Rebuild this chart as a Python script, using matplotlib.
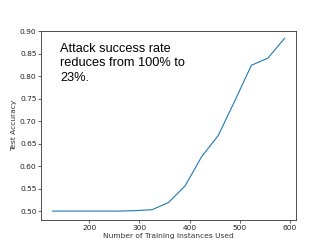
import matplotlib
matplotlib.use('Agg')
from matplotlib import pyplot as plt

# training instances used vs test accuracy
instances = [127, 160, 193, 226, 259, 292, 325, 358, 391, 424, 457, 490, 523, 556, 589]
accuracy = [0.500, 0.500, 0.500, 0.500, 0.500, 0.501, 0.503, 0.519, 0.556, 0.621, 0.668,
            0.745, 0.824, 0.840, 0.884]
y_ticks = [0.50, 0.55, 0.60, 0.65, 0.70, 0.75, 0.80, 0.85, 0.90]
x_ticks = [200, 300, 400, 500, 600]

fig = plt.figure(figsize=(3.29, 2.47), dpi=100)
ax = fig.add_axes([0.126, 0.109, 0.774, 0.767])
ax.plot(instances, accuracy, c='#1f77b4', linewidth=0.8)

ax.set_xlim(105, 612)
ax.set_ylim(0.48, 0.901)
ax.set_xticks(x_ticks)
ax.set_yticks(y_ticks)
ax.set_yticklabels(['%.2f' % t for t in y_ticks])
ax.tick_params(axis='both', labelsize=5.4, length=2, width=0.5, pad=1.5, colors='#222222')
for s in ax.spines.values():
    s.set_linewidth(0.6)
    s.set_color('#333333')

ax.set_xlabel('Number of Training Instances Used', fontsize=5.4, labelpad=1.5, color='#333333')
ax.set_ylabel('Test Accuracy', fontsize=5.4, labelpad=2, color='#333333')

ax.text(0.073, 0.935, 'Attack success rate\nreduces from 100% to\n23%.',
        transform=ax.transAxes, ha='left', va='top', fontsize=9.2,
        family='Liberation Sans', linespacing=1.28)

fig.savefig('out.png', dpi=100)
